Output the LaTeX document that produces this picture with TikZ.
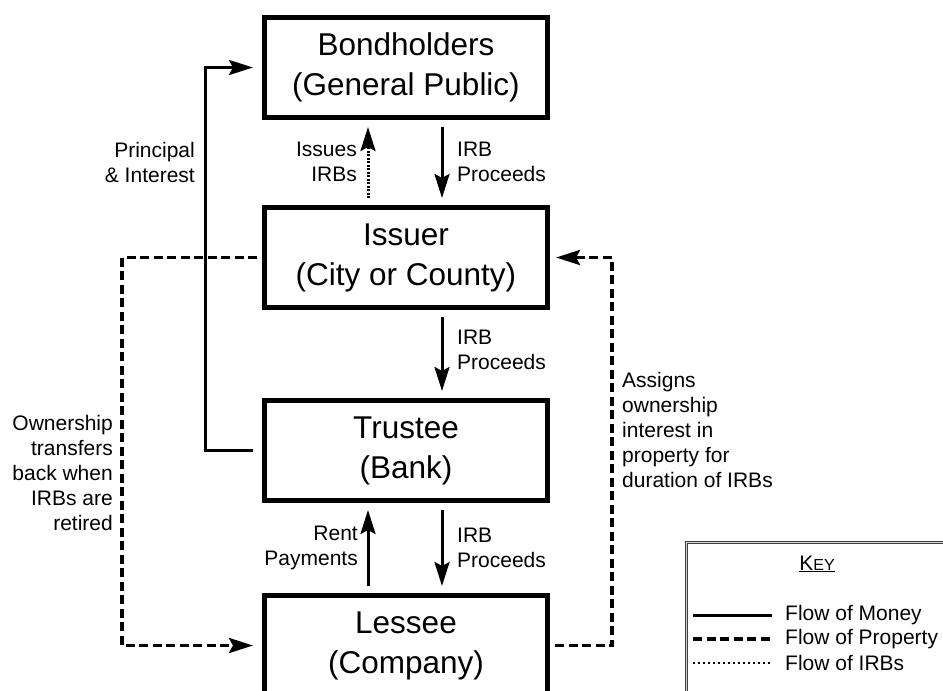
\documentclass[tikz,border=0pt]{standalone}
\usepackage{fontspec}
\setmainfont{Liberation Sans}
\usetikzlibrary{arrows.meta,positioning}

\begin{document}
\begin{tikzpicture}[x=1pt, y=-1pt,
    party/.style={draw, line width=5pt, minimum width=283pt, minimum height=100pt, inner sep=0pt, align=center, font=\fontsize{31.5}{40}\selectfont},
    lbl/.style={inner sep=0pt, font=\fontsize{21}{25}\selectfont},
    tip/.style={-{Stealth[length=24pt, width=15pt, inset=4pt]}},
    money/.style={tip, line width=3pt},
    property/.style={tip, line width=3.5pt, dash pattern=on 9pt off 4.5pt},
    irbs/.style={tip, line width=3pt, dash pattern=on 2pt off 1.5pt}]
    \clip (0,0) rectangle (943,691);

    % Parties
    \node[party] (bond) at (406,67.5) {Bondholders\\(General Public)};
    \node[party] (issuer) at (406,257.5) {Issuer\\(City or County)};
    \node[party] (trustee) at (406,450.5) {Trustee\\(Bank)};
    \node[party] (lessee) at (406,645.5) {Lessee\\(Company)};

    % Corner points of the side loops
    \coordinate (pi) at (205,0);
    \coordinate (pl) at (122,0);
    \coordinate (pr) at (612,0);

    % Arrows between the boxes
    \draw[irbs, shorten <=7pt, shorten >=7pt] ([xshift=-38pt]issuer.north) -- ([xshift=-38pt]bond.south);
    \draw[money, shorten <=7pt, shorten >=7pt] ([xshift=36pt]bond.south) -- ([xshift=36pt]issuer.north);
    \draw[money, shorten <=7pt, shorten >=7pt] ([xshift=36pt]issuer.south) -- ([xshift=36pt]trustee.north);
    \draw[money, shorten <=7pt, shorten >=7pt] ([xshift=36pt]trustee.south) -- ([xshift=36pt]lessee.north);
    \draw[money, shorten <=7pt, shorten >=7pt] ([xshift=-38pt]lessee.north) -- ([xshift=-38pt]trustee.south);

    % Side loops
    \draw[money, shorten <=9pt, shorten >=9pt] (trustee.west) -- (trustee.west -| pi) -- (bond.west -| pi) -- (bond.west);
    \draw[property, shorten <=5pt, shorten >=9pt] (issuer.west) -- (issuer.west -| pl) -- (lessee.west -| pl) -- (lessee.west);
    \draw[property, shorten <=5pt, shorten >=6pt] (lessee.east) -- (lessee.east -| pr) -- (issuer.east -| pr) -- (issuer.east);

    % Labels
    \node[lbl, align=right, anchor=east] (pilbl) at (195,162) {Principal\\\& Interest};
    \node[lbl, align=right, anchor=east] (issues) at (357,162) {Issues\\IRBs};
    \node[lbl, align=left, anchor=west] (proc1) at (457,162) {IRB\\Proceeds};
    \node[lbl, align=left, anchor=west] (proc2) at (457,350) {IRB\\Proceeds};
    \node[lbl, align=right, anchor=east] (rent) at (358,548) {Rent\\Payments};
    \node[lbl, align=left, anchor=west] (proc3) at (457,548) {IRB\\Proceeds};
    \node[lbl, align=right, anchor=east] (back) at (113,473) {Ownership\\transfers\\back when\\IRBs are\\retired};
    \node[lbl, align=left, anchor=west] (assigns) at (622,430) {Assigns\\ownership\\interest in\\property for\\duration of IRBs};

    % Key
    \node[draw=black!75, double=gray!35, double distance=1.2pt, line width=1pt, minimum width=300pt, minimum height=200pt, anchor=north west] (keybox) at (686,542) {};
    \node[lbl] (keytitle) at (817,564) {\underline{K\fontsize{16}{20}\selectfont EY}};
    \node[lbl, anchor=west] (kmoney) at (785,615) {Flow of Money};
    \node[lbl, anchor=west] (kprop) at (785,639) {Flow of Property};
    \node[lbl, anchor=west] (kirbs) at (785,663) {Flow of IRBs};
    \draw[line width=3pt] ([xshift=-92pt]kmoney.west) -- ([xshift=-13pt]kmoney.west);
    \draw[line width=3.5pt, dash pattern=on 9pt off 4.5pt] ([xshift=-92pt]kprop.west) -- ([xshift=-13pt]kprop.west);
    \draw[line width=2.5pt, dash pattern=on 2pt off 3pt] ([xshift=-92pt]kirbs.west) -- ([xshift=-13pt]kirbs.west);
\end{tikzpicture}
\end{document}
